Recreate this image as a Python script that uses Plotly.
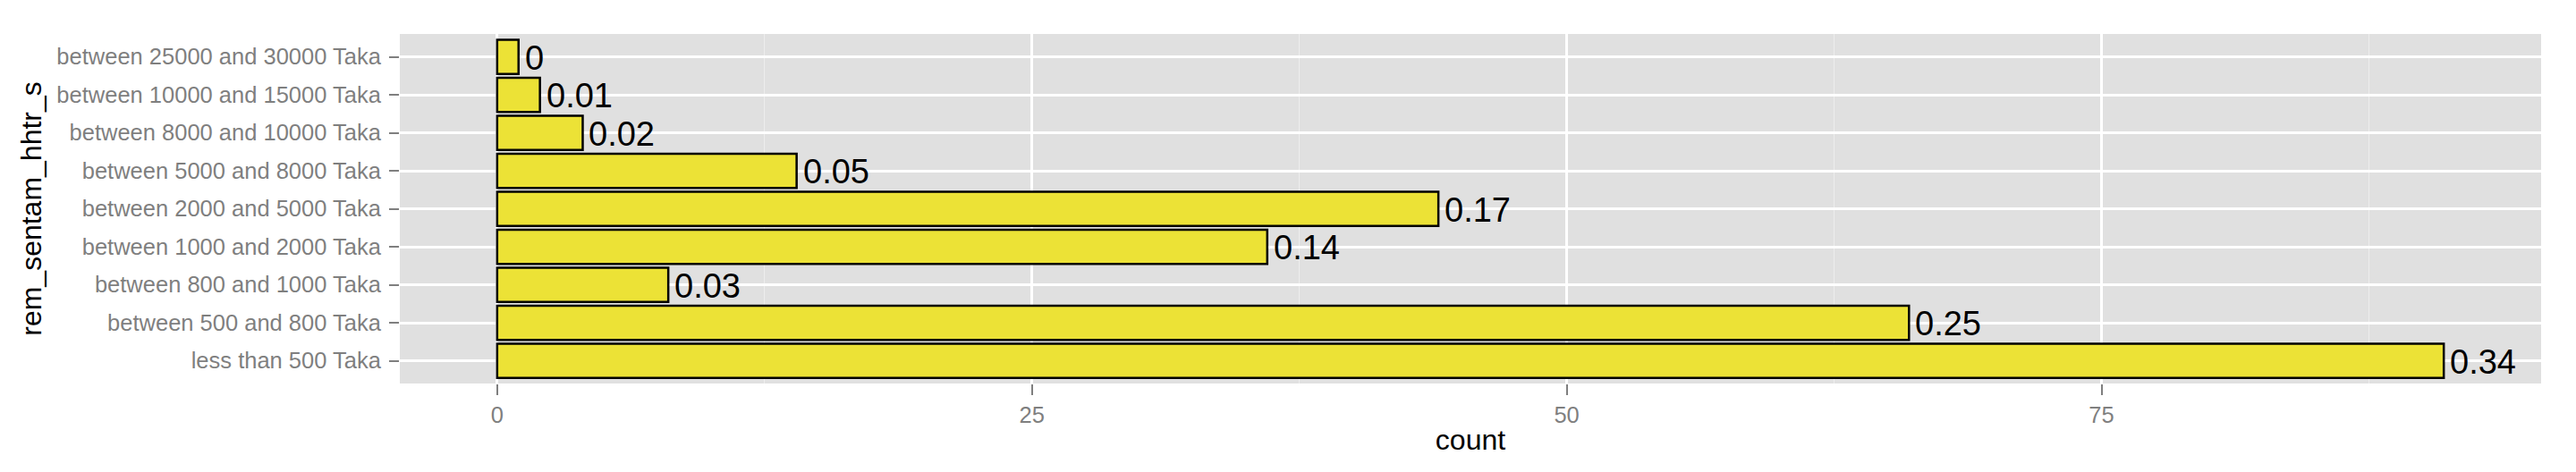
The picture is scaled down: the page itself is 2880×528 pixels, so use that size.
import plotly.graph_objects as go

categories = [
    "less than 500 Taka",
    "between 500 and 800 Taka",
    "between 800 and 1000 Taka",
    "between 1000 and 2000 Taka",
    "between 2000 and 5000 Taka",
    "between 5000 and 8000 Taka",
    "between 8000 and 10000 Taka",
    "between 10000 and 15000 Taka",
    "between 25000 and 30000 Taka",
]
counts = [91, 66, 8, 36, 44, 14, 4, 2, 1]
proportion_labels = ["0.34", "0.25", "0.03", "0.14", "0.17", "0.05", "0.02", "0.01", "0"]
x_tick_values = [0, 25, 50, 75]

FONT = "Liberation Sans, Arial, Helvetica, sans-serif"
GREY = "#7F7F7F"

fig = go.Figure()
fig.add_trace(go.Bar(
    x=counts, y=categories, orientation="h", width=0.9,
    marker=dict(color="#ECE236", line=dict(color="black", width=2.5)),
    showlegend=False, hoverinfo="x+y",
))

annotations = [
    dict(x=c, y=cat, text=lab, xref="x", yref="y", xanchor="left", yanchor="middle",
         showarrow=False, xshift=5, yshift=-1,
         font=dict(family=FONT, size=38, color="black"))
    for c, cat, lab in zip(counts, categories, proportion_labels)
]

xmax = max(counts)
pad = 0.05 * xmax
fig.update_layout(
    template="none",
    width=2872, height=520,
    margin=dict(l=439, r=39, t=30, b=99),
    paper_bgcolor="white", plot_bgcolor="#E0E0E0",
    font=dict(family=FONT, color=GREY),
    annotations=annotations,
    xaxis=dict(
        automargin=False,
        range=[-pad, xmax + pad], tickvals=x_tick_values,
        ticktext=[str(v) for v in x_tick_values],
        showgrid=True, gridcolor="white", gridwidth=2.5, zeroline=False,
        ticks="outside", ticklen=12, tickwidth=2, tickcolor=GREY,
        tickfont=dict(size=25.5, color=GREY, family=FONT),
        minor=dict(tickvals=[12.5, 37.5, 62.5, 87.5], showgrid=True,
                   gridcolor="#EDEDED", gridwidth=1, ticks=""),
        title=dict(text="count", font=dict(size=32, color="black", family=FONT), standoff=4),
        showline=False,
    ),
    yaxis=dict(
        automargin=False,
        categoryorder="array", categoryarray=categories,
        range=[-0.6, len(categories) - 0.4],
        showgrid=True, gridcolor="white", gridwidth=2.5, zeroline=False,
        ticks="outside", ticklen=11, tickwidth=2, tickcolor=GREY,
        ticklabelstandoff=4,
        tickfont=dict(size=25.5, color=GREY, family=FONT),
        title=dict(text="rem_sentam_hhtr_s", font=dict(size=32, color="black", family=FONT), standoff=7),
        showline=False,
    ),
)

fig.write_html("out.html")
